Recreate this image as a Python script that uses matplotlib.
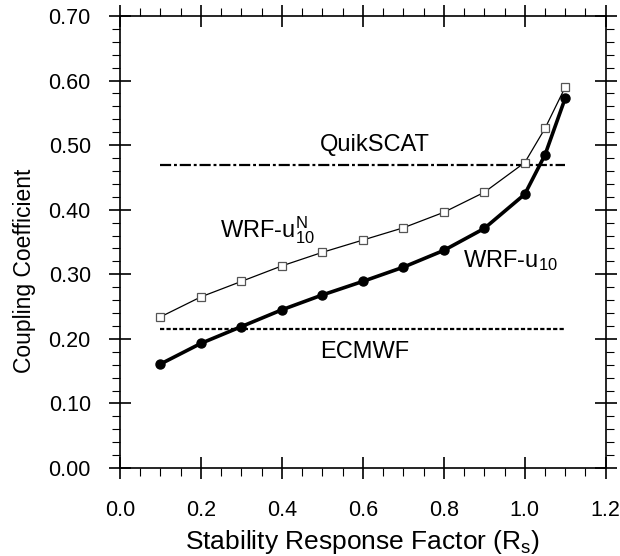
import matplotlib
matplotlib.use("Agg")
import matplotlib.pyplot as plt
from matplotlib.ticker import MultipleLocator, FormatStrFormatter

# данные
rs = [0.1, 0.2, 0.3, 0.4, 0.5, 0.6, 0.7, 0.8, 0.9, 1.0, 1.05, 1.1]
wrf_u10 = [0.161, 0.193, 0.219, 0.245, 0.268, 0.289, 0.311, 0.337, 0.371, 0.424, 0.485, 0.573]
wrf_u10n = [0.234, 0.265, 0.289, 0.313, 0.334, 0.353, 0.372, 0.396, 0.427, 0.473, 0.526, 0.590]
quikscat = 0.470
ecmwf = 0.215
ref_x = [0.1, 1.1]

plt.rcParams['font.family'] = ['Liberation Sans', 'DejaVu Sans']
plt.rcParams['mathtext.fontset'] = 'custom'
plt.rcParams['mathtext.rm'] = 'Liberation Sans'
plt.rcParams['mathtext.it'] = 'Liberation Sans:italic'

fig = plt.figure(figsize=(6.2, 5.56), dpi=100)
ax = fig.add_axes([0.1935, 0.1583, 0.7835, 0.8129])

# горизонтальные линии наблюдений / реанализа
ax.plot(ref_x, [quikscat, quikscat], color='black', lw=1.6, ls=(0, (5, 1.3, 1.3, 1.3)))
ax.plot(ref_x, [ecmwf, ecmwf], color='black', lw=1.6, ls=(0, (1.9, 1.0)))

# кривые WRF
ax.plot(rs, wrf_u10n, color='black', lw=0.9, marker='s', ms=6,
        mfc='white', mec='#555555', mew=0.9)
ax.plot(rs, wrf_u10, color='black', lw=2.6, marker='o', ms=6.5,
        mfc='black', mec='black')

# подписи
ax.text(0.63, 0.500, "QuikSCAT", fontsize=17, ha='center', va='center')
ax.text(0.605, 0.180, "ECMWF", fontsize=17, ha='center', va='center')
ax.text(0.247, 0.368, r"WRF-u$_{10}^{\rm N}$", fontsize=17, ha='left', va='center')
ax.text(0.847, 0.322, r"WRF-u$_{10}$", fontsize=17, ha='left', va='center')

ax.set_xlim(0, 1.2)
ax.set_ylim(0, 0.70)
ax.xaxis.set_major_locator(MultipleLocator(0.2))
ax.xaxis.set_minor_locator(MultipleLocator(0.05))
ax.yaxis.set_major_locator(MultipleLocator(0.1))
ax.yaxis.set_minor_locator(MultipleLocator(0.02))
ax.xaxis.set_major_formatter(FormatStrFormatter('%.1f'))
ax.yaxis.set_major_formatter(FormatStrFormatter('%.2f'))

ax.tick_params(which='major', direction='inout', length=16, width=1.2,
               top=True, right=True, labelsize=15.5)
ax.tick_params(axis='y', which='major', pad=13)
ax.tick_params(axis='x', which='major', pad=15)
ax.tick_params(which='minor', direction='out', length=6, width=0.8,
               top=True, right=True)
for s in ax.spines.values():
    s.set_linewidth(1.2)

ax.set_xlabel(r"Stability Response Factor (R$_{\rm s}$)", fontsize=19, labelpad=5)
ax.set_ylabel("Coupling Coefficient", fontsize=16.5)
ax.yaxis.set_label_coords(-0.173, 0.436)

fig.savefig("out.png", dpi=100)
